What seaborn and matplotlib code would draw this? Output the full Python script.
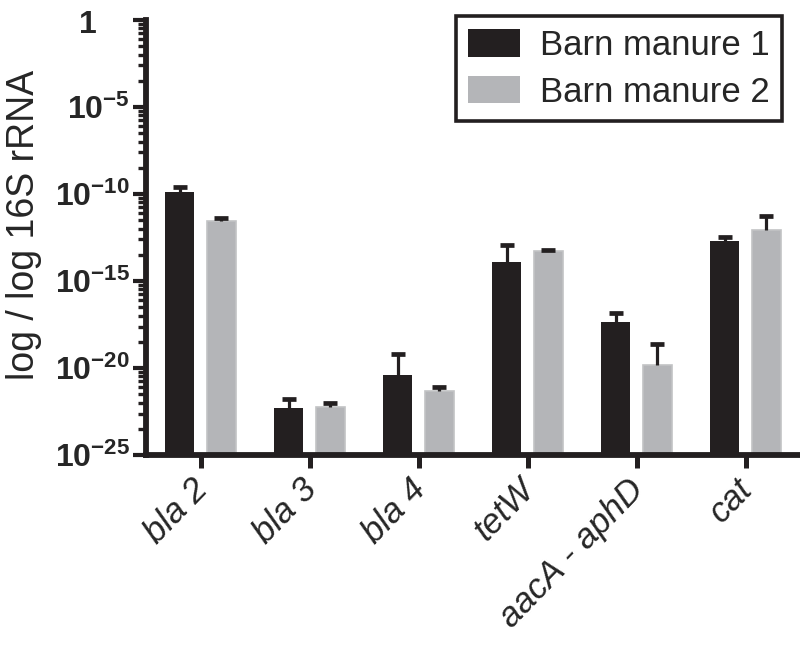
import numpy as np
import pandas as pd
import matplotlib
matplotlib.use("Agg")
import matplotlib.pyplot as plt
import matplotlib.ticker as mticker
import matplotlib.transforms as mtransforms
import seaborn as sns

# values (log scale), mean and upper SD per gene
genes = ["bla 2", "bla 3", "bla 4", "tetW", "aacA - aphD", "cat"]
series = ["Barn manure 1", "Barn manure 2"]
mean_1 = [1.32e-10, 5.2e-23, 4.1e-21, 1.23e-14, 4.4e-18, 2.1e-13]
sd_1 = [1.25e-10, 1.22e-22, 5.8e-20, 1.08e-13, 9.4e-18, 1.1e-13]
mean_2 = [2.69e-12, 5.8e-23, 4.9e-22, 5.4e-14, 1.55e-20, 9.1e-13]
sd_2 = [1.7e-12, 3.5e-23, 2.9e-22, 4e-15, 2.25e-19, 4.9e-12]

major_exp = [0, -5, -10, -15, -20, -25]
major_labels = ["1", "10^{-5}", "10^{-10}", "10^{-15}", "10^{-20}", "10^{-25}"]

BLACK = "#231f20"
GREY = "#b4b5b8"

sns.set_theme(style="ticks")
plt.rcParams["font.family"] = ["Liberation Sans", "DejaVu Sans"]
plt.rcParams["mathtext.fontset"] = "custom"
plt.rcParams["mathtext.bf"] = "Liberation Sans:bold"
plt.rcParams["mathtext.rm"] = "Liberation Sans"

df = pd.DataFrame({
    "gene": genes * 2,
    "sample": [series[0]] * len(genes) + [series[1]] * len(genes),
    "value": mean_1 + mean_2,
})

fig = plt.figure(figsize=(8, 6.55), dpi=100)
ax = fig.add_axes([0.1825, 0.3053, 0.8175, 0.6642])
ax.set_yscale("log")

sns.barplot(data=df, x="gene", y="value", hue="sample", order=genes,
            hue_order=series, palette=[BLACK, GREY], errorbar=None,
            width=0.76, gap=0.3, saturation=1, linewidth=0, ax=ax)

# grey bars get a slightly lighter rim
for bar in ax.containers[1]:
    bar.set_edgecolor("#c2c3c5")
    bar.set_linewidth(1.2)

# upper-only error bars, GraphPad style
for cont, means, sds in zip(ax.containers, [mean_1, mean_2], [sd_1, sd_2]):
    xs = [b.get_x() + b.get_width() / 2 for b in cont]
    tops = np.array(means) + np.array(sds)
    ax.vlines(xs, means, tops, color=BLACK, lw=2.3, zorder=4)
    ax.plot(xs, tops, ls="none", marker="_", ms=10.5, mew=3.4, color=BLACK,
            zorder=5)

ax.set_xlim(-0.5, 5.5)
ax.set_ylim(10.0 ** -25, 1)

major = [10.0 ** e for e in major_exp]
minor = [10.0 ** (e + 5 * np.log10(k)) for e in range(-25, 0, 5) for k in range(2, 10)]
ax.yaxis.set_major_locator(mticker.FixedLocator(major))
ax.yaxis.set_major_formatter(mticker.FixedFormatter(
    [r"$\mathbf{" + s + "}$" for s in major_labels]))
ax.yaxis.set_minor_locator(mticker.FixedLocator(minor))
ax.yaxis.set_minor_formatter(mticker.NullFormatter())

ax.tick_params(axis="y", which="major", length=9.5, width=3.0, labelsize=23,
               pad=2, color=BLACK)
ax.tick_params(axis="y", which="minor", length=6, width=2.4, color=BLACK)
ax.tick_params(axis="x", which="major", length=9.5, width=3.6, labelsize=25,
               pad=3, color=BLACK)

shift = mtransforms.ScaledTranslation(-10 / 100, 0, fig.dpi_scale_trans)
for lab in ax.get_xticklabels():
    lab.set_rotation(46)
    lab.set_ha("right")
    lab.set_rotation_mode("anchor")
    lab.set_style("italic")
    lab.set_transform(lab.get_transform() + shift)

# the "1" label sits further left in the original
one_shift = mtransforms.ScaledTranslation(-33 / 100, -2 / 100, fig.dpi_scale_trans)
one_tick = ax.yaxis.get_major_ticks()[0]
one_tick.label1.set_transform(one_tick.label1.get_transform() + one_shift)

for side in ["top", "right"]:
    ax.spines[side].set_visible(False)
for side in ["left", "bottom"]:
    ax.spines[side].set_linewidth(4.2)
    ax.spines[side].set_color(BLACK)

ax.set_xlabel("")
ax.set_ylabel("log / log 16S rRNA", fontsize=27)
ax.yaxis.set_label_coords(-0.159, 0.529)

leg = ax.legend(loc="upper right", bbox_to_anchor=(0.973, 1.008), borderaxespad=0,
                fontsize=25, frameon=True, fancybox=False, handlelength=1.5,
                handleheight=0.86, handletextpad=0.58, labelspacing=0.4,
                borderpad=0.35)
leg.get_frame().set_edgecolor(BLACK)
leg.get_frame().set_linewidth(2.6)
leg.get_frame().set_alpha(1)

fig.savefig("out.png", dpi=100)
